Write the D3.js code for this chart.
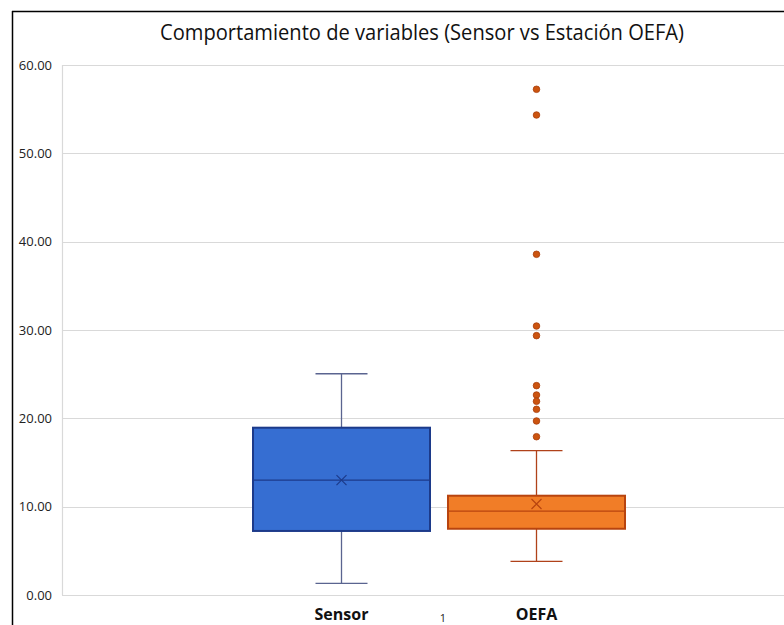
<!DOCTYPE html>
<html><head><meta charset="utf-8">
<script src="https://cdn.jsdelivr.net/npm/d3@7"></script>
<style>body{margin:0;background:#fff;font-family:"Open Sans",sans-serif}</style>
</head><body>
<svg id="c" width="784" height="625"></svg>
<script>
const title = "Comportamiento de variables (Sensor vs Estación OEFA)";
const categories = ["Sensor", "OEFA"];
const whiskerLow = [1.32, 3.81];
const q1 = [7.25, 7.5];
const median = [13.0, 9.5];
const q3 = [18.94, 11.24];
const whiskerHigh = [25.05, 16.34];
const means = [13.0, 10.3];
const outliersOEFA = [57.25, 54.34, 38.57, 30.45, 29.36, 23.7, 22.64, 21.93, 21.02, 19.7, 17.92];
const yTicks = [0, 10, 20, 30, 40, 50, 60];
const fills = ["#366ed2", "#f17d27"];
const strokes = ["#1c3a8a", "#b8440f"];
const whiskerColors = ["#5a6490", "#b0421a"];

const svg = d3.select("#c");
const y = d3.scaleLinear().domain([0, 60]).range([595, 65]);
const x = d3.scaleBand().domain(categories).range([253, 625]).paddingInner(0.0923).paddingOuter(0);

// border
svg.append("line").attr("x1",12.5).attr("x2",12.5).attr("y1",11).attr("y2",625).attr("stroke","#000").attr("stroke-width",1.5);
svg.append("line").attr("x1",12).attr("x2",784).attr("y1",11.5).attr("y2",11.5).attr("stroke","#000").attr("stroke-width",1.5);

// grid
svg.append("g").selectAll("line").data(yTicks).join("line")
  .attr("x1",62).attr("x2",784).attr("y1",d=>Math.round(y(d))+0.5).attr("y2",d=>Math.round(y(d))+0.5)
  .attr("stroke","#d9d9d9").attr("stroke-width",1.2);
svg.append("line").attr("x1",62.5).attr("x2",62.5).attr("y1",y(60)).attr("y2",y(0)).attr("stroke","#d9d9d9").attr("stroke-width",1.2);

// y labels
const yAxis = d3.axisLeft(y).tickValues(yTicks).tickFormat(d3.format(".2f")).tickSize(0).tickPadding(0);
const ga = svg.append("g").attr("transform","translate(52,0)").call(yAxis);
ga.select(".domain").remove();
ga.selectAll("text").attr("font-family","Open Sans, sans-serif").attr("font-size",13).attr("fill","#222");

// title
svg.append("text").attr("x",422).attr("y",40).attr("text-anchor","middle")
  .attr("font-family","Open Sans, sans-serif").attr("font-size",22).attr("fill","#111")
  .attr("textLength",524).attr("lengthAdjust","spacingAndGlyphs").text(title);

// boxes
categories.forEach((c,i)=>{
  const cx = x(c) + x.bandwidth()/2;
  const g = svg.append("g");
  const wc = whiskerColors[i];
  const capW = 26;
  g.append("line").attr("x1",cx).attr("x2",cx).attr("y1",y(whiskerHigh[i])).attr("y2",y(q3[i])).attr("stroke",wc).attr("stroke-width",1.3);
  g.append("line").attr("x1",cx).attr("x2",cx).attr("y1",y(q1[i])).attr("y2",y(whiskerLow[i])).attr("stroke",wc).attr("stroke-width",1.3);
  g.append("line").attr("x1",cx-capW).attr("x2",cx+capW).attr("y1",y(whiskerHigh[i])).attr("y2",y(whiskerHigh[i])).attr("stroke",wc).attr("stroke-width",1.3);
  g.append("line").attr("x1",cx-capW).attr("x2",cx+capW).attr("y1",y(whiskerLow[i])).attr("y2",y(whiskerLow[i])).attr("stroke",wc).attr("stroke-width",1.3);
  g.append("rect").attr("x",x(c)).attr("width",x.bandwidth()).attr("y",y(q3[i])).attr("height",y(q1[i])-y(q3[i]))
    .attr("fill",fills[i]).attr("stroke",strokes[i]).attr("stroke-width",2);
  g.append("line").attr("x1",x(c)).attr("x2",x(c)+x.bandwidth()).attr("y1",y(median[i])).attr("y2",y(median[i])).attr("stroke",strokes[i]).attr("stroke-width",1.3);
  const m = y(means[i]), s = 5;
  g.append("path").attr("d",`M${cx-s},${m-s}L${cx+s},${m+s}M${cx-s},${m+s}L${cx+s},${m-s}`).attr("stroke",strokes[i]).attr("stroke-width",1.2).attr("fill","none");
  svg.append("text").attr("x",cx).attr("y",620).attr("text-anchor","middle")
    .attr("font-family","Open Sans, sans-serif").attr("font-weight","bold").attr("font-size",16).attr("fill","#111").text(c);
});

// outliers
const cxO = x("OEFA") + x.bandwidth()/2;
svg.append("g").selectAll("circle").data(outliersOEFA).join("circle")
  .attr("cx",cxO).attr("cy",d=>y(d)).attr("r",3.3).attr("fill","#cc540f").attr("stroke","#a83d0b").attr("stroke-width",0.8);

// category axis label "1"
svg.append("text").attr("x",443).attr("y",622).attr("text-anchor","middle")
  .attr("font-family","Open Sans, sans-serif").attr("font-size",11).attr("fill","#222").text("1");
</script>
</body></html>
